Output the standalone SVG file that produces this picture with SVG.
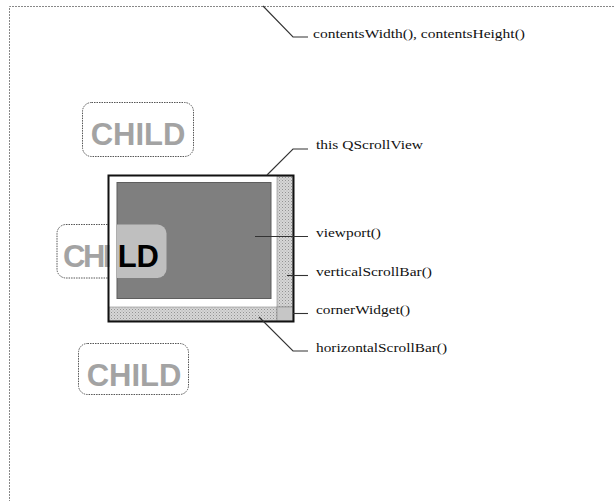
<svg xmlns="http://www.w3.org/2000/svg" width="615" height="501" viewBox="0 0 615 501">
<style>
  .lbl { font-family: "Liberation Serif", "Times New Roman", serif; font-size: 13px; fill: #111; }
  .child { font-family: "Liberation Sans", Arial, sans-serif; font-weight: bold; font-size: 31px; text-anchor: middle; }
  .dash { fill: none; stroke: #555; stroke-width: 1; stroke-dasharray: 1.5 1; }
  .conn { fill: none; stroke: #333; stroke-width: 1.1; }
  .bar { fill: url(#hatch); stroke: #888; stroke-width: 0.6; }
</style>
<defs>
  <pattern id="hatch" width="3" height="3" patternUnits="userSpaceOnUse">
    <rect width="3" height="3" fill="#d6d6d6"/>
    <rect width="1" height="1" fill="#939393"/>
    <rect x="1.5" y="1.5" width="1" height="1" fill="#aaaaaa"/>
  </pattern>
  <clipPath id="vpclip"><rect x="117" y="182" width="154" height="117"/></clipPath>
</defs>
<rect width="615" height="501" fill="#fff"/>
<path d="M9.5 700 V6.5 H700" fill="none" stroke="#888" stroke-width="1" stroke-dasharray="2 1"/>

<g id="child-top">
  <rect class="dash" x="82.5" y="102.5" width="111" height="54" rx="9"/>
  <text class="child" x="138" y="145" fill="#a3a3a3">CHILD</text>
</g>
<g id="child-bottom">
  <rect class="dash" x="78.5" y="343.5" width="110" height="51" rx="9"/>
  <text class="child" x="134" y="386" fill="#a3a3a3">CHILD</text>
</g>
<g id="child-middle">
  <rect class="dash" x="57" y="224.5" width="109.5" height="53.5" rx="9"/>
</g>

<g id="qscrollview">
  <rect x="108.5" y="175.5" width="185" height="146" fill="#fff"/>
</g>
<g id="viewport">
  <rect x="117" y="182.5" width="154" height="116" fill="#7f7f7f" stroke="#5e5e5e" stroke-width="1"/>
</g>
<g id="child-middle-visible">
  <rect x="57" y="224.5" width="109.5" height="53.5" rx="9" fill="#bfbfbf" clip-path="url(#vpclip)"/>
  <text class="child" x="63" y="267" fill="#a3a3a3" style="text-anchor:start;letter-spacing:-2.5px">CHI</text>
  <text class="child" x="117.7" y="267" fill="#000" style="text-anchor:start">LD</text>
</g>
<g id="vertical-scrollbar">
  <rect class="bar" x="277" y="176" width="16" height="131"/>
</g>
<g id="horizontal-scrollbar">
  <rect class="bar" x="109" y="307" width="168" height="14"/>
</g>
<g id="corner-widget">
  <rect x="277" y="307" width="16" height="14" fill="#c6c6c6" stroke="#888" stroke-width="0.6"/>
</g>
<g id="qscrollview-frame">
  <rect x="108.5" y="175.5" width="185" height="146" fill="none" stroke="#111" stroke-width="2"/>
</g>

<g id="connectors">
  <polyline class="conn" points="263,6 293,37 308,37"/>
  <polyline class="conn" points="267,175 293,149 308,149"/>
  <polyline class="conn" points="255,236.5 308,236.5"/>
  <polyline class="conn" points="287,275.5 308,275.5"/>
  <polyline class="conn" points="293,313.5 308,313.5"/>
  <polyline class="conn" points="259,317 293,351 308,351"/>
</g>

<g id="labels">
  <text class="lbl" x="313" y="38" textLength="212" lengthAdjust="spacingAndGlyphs">contentsWidth(), contentsHeight()</text>
  <text class="lbl" x="316" y="149" textLength="107" lengthAdjust="spacingAndGlyphs">this QScrollView</text>
  <text class="lbl" x="316" y="237" textLength="65" lengthAdjust="spacingAndGlyphs">viewport()</text>
  <text class="lbl" x="316" y="276" textLength="116" lengthAdjust="spacingAndGlyphs">verticalScrollBar()</text>
  <text class="lbl" x="316" y="314" textLength="94" lengthAdjust="spacingAndGlyphs">cornerWidget()</text>
  <text class="lbl" x="316" y="352" textLength="131" lengthAdjust="spacingAndGlyphs">horizontalScrollBar()</text>
</g>
</svg>
